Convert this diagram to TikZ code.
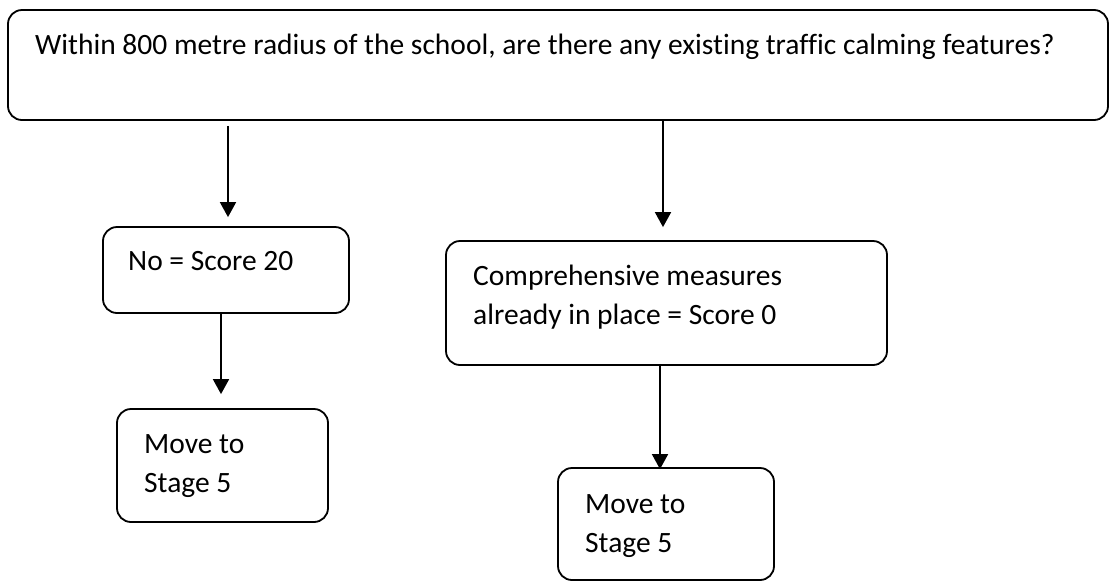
\documentclass[tikz,border=0pt]{standalone}
\usepackage{fontspec}
\setmainfont{Carlito}[Ligatures=NoCommon]
\usetikzlibrary{arrows.meta,fit}
\tikzset{
  box/.style={draw, line width=1.8pt, rounded corners=14pt, inner sep=0pt},
  txt/.style={anchor=base west, inner sep=0pt, font=\fontsize{29.5}{39}\selectfont},
  arr/.style={line width=1.8pt, -{Triangle[length=15pt,width=16pt]}}
}
\begin{document}
\begin{tikzpicture}[x=1pt,y=-1pt]
\useasboundingbox (0,0) rectangle (1110,582);
% boxes
\node[box, fit={(8,10) (1108,120)}] (top) {};
\node[box, fit={(103,227) (349,313)}] (no) {};
\node[box, fit={(117,409) (328,522)}] (movel) {};
\node[box, fit={(446,241) (887,365)}] (comp) {};
\node[box, fit={(558,468) (774,580)}] (mover) {};
% texts
\node[txt] (ttop) at (35,54) {Within 800 metre radius of the school, are there any existing traffic calming features?};
\node[txt] (tno) at (128,270) {No = Score 20};
\node[txt] (tmovel1) at (144,453) {Move to};
\node[txt] (tmovel2) at (144,492) {Stage 5};
\node[txt] (tcomp1) at (473,285) {Comprehensive measures};
\node[txt] (tcomp2) at (473,324) {already in place = Score 0};
\node[txt] (tmover1) at (585,513) {Move to};
\node[txt] (tmover2) at (585,552) {Stage 5};
% arrow columns
\coordinate (c1) at (228,0);
\coordinate (c2) at (221,0);
\coordinate (c3) at (663,0);
\coordinate (c4) at (660,0);
% arrows
\draw[arr] ([yshift=-5pt]top.south -| c1) -- ([yshift=9pt]no.north -| c1);
\draw[arr] (no.south -| c2) -- ([yshift=14pt]movel.north -| c2);
\draw[arr] (top.south -| c3) -- ([yshift=13pt]comp.north -| c3);
\draw[arr] ([yshift=2pt]comp.south -| c4) -- ([yshift=-2pt]mover.north -| c4);
\end{tikzpicture}
\end{document}
